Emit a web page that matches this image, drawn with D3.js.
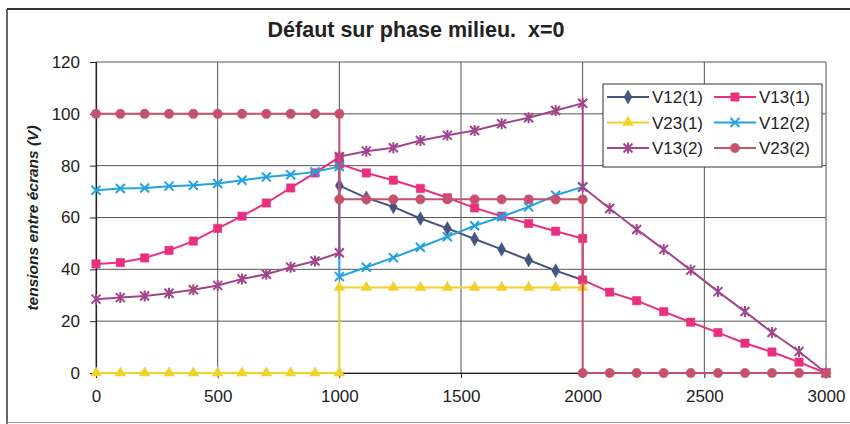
<!DOCTYPE html>
<html><head><meta charset="utf-8">
<script src="https://cdn.jsdelivr.net/npm/d3@7"></script>
<style>html,body{margin:0;padding:0;background:#fff;}svg{display:block;font-family:"Liberation Sans",Arial,sans-serif;}</style>
</head><body>
<svg id="chart" width="850" height="424"></svg>
<script>
// ---- data ----
const title = "Défaut sur phase milieu.  x=0";
const yTitle = "tensions entre écrans (V)";
const xTicks = [0, 500, 1000, 1500, 2000, 2500, 3000];
const yTicks = [0, 20, 40, 60, 80, 100, 120];
const xValues = [0,100,200,300,400,500,600,700,800,900,1000,
  1000,1111,1222,1333,1444,1556,1667,1778,1889,2000,
  2000,2111,2222,2333,2444,2556,2667,2778,2889,3000];
const seriesNames = ["V12(1)", "V13(1)", "V23(1)", "V12(2)", "V13(2)", "V23(2)"];
const N = null;
const V12_1 = [N,N,N,N,N,N,N,N,N,N,N,
  72.3,67.6,64.1,59.6,55.8,51.7,47.7,43.6,39.5,35.9,
  N,N,N,N,N,N,N,N,N,N];
const V13_1 = [42.1,42.6,44.4,47.3,50.9,55.8,60.5,65.6,71.4,77.2,83.3,
  80.7,77.2,74.4,71.2,67.6,63.7,60.5,57.7,54.7,51.9,
  35.9,31.2,27.9,23.7,19.6,15.6,11.5,8.1,4.2,0];
const V23_1 = [0,0,0,0,0,0,0,0,0,0,0,
  33,33,33,33,33,33,33,33,33,33,
  N,N,N,N,N,N,N,N,N,N];
const V12_2 = [70.5,71.2,71.4,72.1,72.4,73.1,74.4,75.6,76.5,77.6,79.7,
  37.2,40.8,44.5,48.5,52.6,56.8,60.3,64.1,68.6,71.8,
  N,N,N,N,N,N,N,N,N,N];
const V13_2 = [28.5,29.1,29.7,30.8,32.1,33.8,36.3,38.1,40.8,43.2,46.4,
  83.5,85.6,86.9,89.7,91.7,93.6,96.2,98.5,101.3,104.1,
  71.8,63.5,55.4,47.7,39.7,31.4,23.7,15.6,8.3,0];
const V23_2 = [100,100,100,100,100,100,100,100,100,100,100,
  67,67,67,67,67,67,67,67,67,67,
  0,0,0,0,0,0,0,0,0,0];
const seriesValues = [V12_1, V13_1, V23_1, V12_2, V13_2, V23_2];
const seriesColors = ["#45557e", "#e8307f", "#f2d22a", "#22a2de", "#a2468c", "#c4526c"];
const seriesMarkers = ["diamond", "square", "triangle", "x", "star", "circle"];

// ---- layout ----
const svg = d3.select("#chart");
const x = d3.scaleLinear().domain([0, 3000]).range([96, 826]);
const y = d3.scaleLinear().domain([0, 120]).range([373, 62]);

// outer frame
svg.append("line").attr("x1", 7).attr("x2", 850).attr("y1", 9).attr("y2", 9).attr("stroke", "#333").attr("stroke-width", 2);
svg.append("line").attr("x1", 7).attr("x2", 7).attr("y1", 9).attr("y2", 424).attr("stroke", "#333").attr("stroke-width", 1.5);
svg.append("line").attr("x1", 7).attr("x2", 850).attr("y1", 422.5).attr("y2", 422.5).attr("stroke", "#999").attr("stroke-width", 1);

// gridlines
const grid = svg.append("g");
grid.selectAll("line.h").data(yTicks).join("line")
  .attr("x1", x(0)).attr("x2", x(3000)).attr("y1", d => y(d)).attr("y2", d => y(d))
  .attr("stroke", "#555").attr("stroke-width", 1);
grid.selectAll("line.v").data(xTicks).join("line")
  .attr("x1", d => x(d)).attr("x2", d => x(d)).attr("y1", y(0)).attr("y2", y(120))
  .attr("stroke", "#555").attr("stroke-width", 1);

// axes
const yAxis = svg.append("g").attr("transform", `translate(${x(0)},0)`)
  .call(d3.axisLeft(y).tickValues(yTicks).tickSize(6).tickPadding(10));
const xAxis = svg.append("g").attr("transform", `translate(0,${y(0)})`)
  .call(d3.axisBottom(x).tickValues(xTicks).tickSize(5).tickPadding(12).tickFormat(d3.format("d")));
[yAxis, xAxis].forEach(a => {
  a.select(".domain").attr("stroke", "#222").attr("stroke-width", 1.2);
  a.selectAll(".tick line").attr("stroke", "#222");
  a.selectAll("text").attr("font-size", 17).attr("fill", "#222").attr("font-family", "Liberation Sans, Arial, sans-serif");
});

// title
svg.append("text").attr("x", 416).attr("y", 37).attr("text-anchor", "middle")
  .attr("font-size", 21.5).attr("font-weight", "bold").attr("fill", "#222")
  .style("white-space", "pre").text(title);
svg.append("text").attr("transform", "translate(38,218) rotate(-90)").attr("text-anchor", "middle")
  .attr("font-size", 15.5).attr("font-style", "italic").attr("font-weight", "bold").attr("fill", "#222")
  .text(yTitle);

// markers
function markerPath(type) {
  switch (type) {
    case "diamond": return d3.symbol(d3.symbolDiamond, 55)();
    case "square": return d3.symbol(d3.symbolSquare, 70)();
    case "triangle": return d3.symbol(d3.symbolTriangle, 50)();
    case "circle": return d3.symbol(d3.symbolCircle, 70)();
    case "x": return "M-4.5,-4.5L4.5,4.5M-4.5,4.5L4.5,-4.5";
    case "star": return "M-4.5,-4.5L4.5,4.5M-4.5,4.5L4.5,-4.5M0,-5.5L0,5.5";
  }
}
function drawMarker(g, type, color) {
  const p = g.append("path").attr("d", markerPath(type));
  if (type === "x" || type === "star") p.attr("fill", "none").attr("stroke", color).attr("stroke-width", 2);
  else p.attr("fill", color).attr("stroke", color).attr("stroke-width", 0.5);
}

const line = d3.line().defined(d => d[1] !== null).x(d => x(d[0])).y(d => y(d[1]));
seriesValues.forEach((vals, i) => {
  const pts = xValues.map((xv, j) => [xv, vals[j]]);
  const g = svg.append("g");
  g.append("path").attr("d", line(pts)).attr("fill", "none")
    .attr("stroke", seriesColors[i]).attr("stroke-width", 2);
  pts.filter(p => p[1] !== null).forEach(p => {
    const m = g.append("g").attr("transform", `translate(${x(p[0])},${y(p[1])})`);
    drawMarker(m, seriesMarkers[i], seriesColors[i]);
  });
});

// legend
const lg = svg.append("g");
lg.append("rect").attr("x", 603).attr("y", 84).attr("width", 219).attr("height", 83)
  .attr("fill", "#fff").attr("stroke", "#333").attr("stroke-width", 1);
seriesNames.forEach((name, i) => {
  const col = i % 2, row = Math.floor(i / 2);
  const lx = 607 + col * 107, ly = 97 + row * 25.5;
  lg.append("line").attr("x1", lx).attr("x2", lx + 42).attr("y1", ly).attr("y2", ly)
    .attr("stroke", seriesColors[i]).attr("stroke-width", 2);
  const m = lg.append("g").attr("transform", `translate(${lx + 21},${ly})`);
  drawMarker(m, seriesMarkers[i], seriesColors[i]);
  lg.append("text").attr("x", lx + 45).attr("y", ly).attr("dy", "0.36em")
    .attr("font-size", 17).attr("fill", "#222").text(name);
});
</script>
</body></html>
